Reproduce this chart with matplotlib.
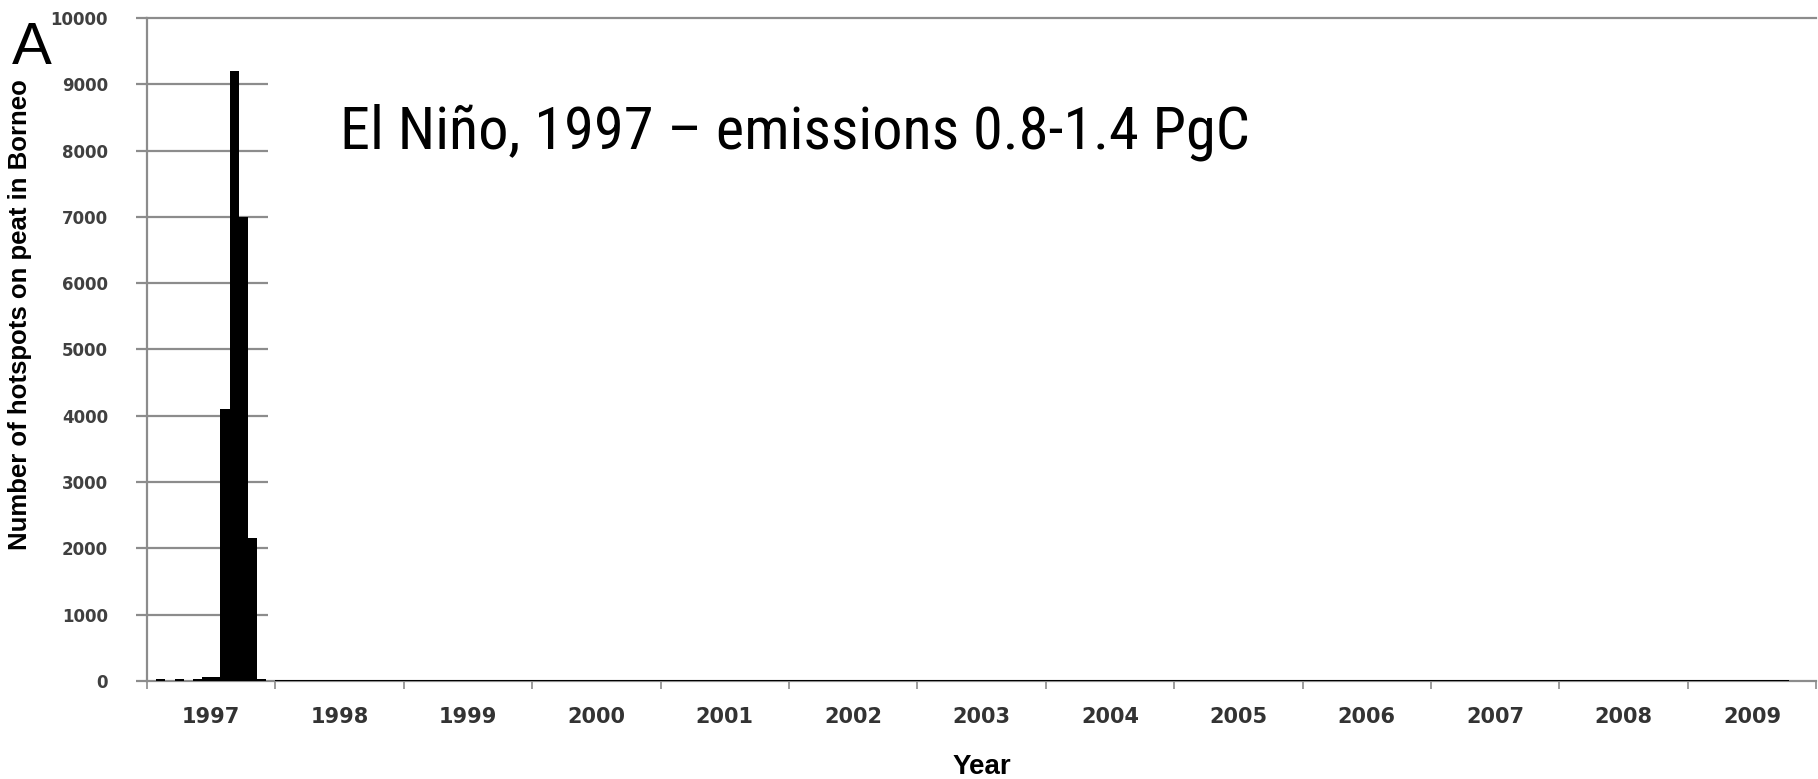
import numpy as np
from matplotlib import pyplot as plt

# Hotspot counts on peat in Borneo, 14 bins per year, 1997-2009
years = np.arange(1997, 2010)
bins_per_year = 14

counts_by_year = {
    1997: [0, 30, 0, 30, 0, 30, 60, 60, 4100, 9200, 7000, 2150, 30, 0],
    1998: [15, 15, 15, 15, 10, 20, 20, 15, 15, 20, 15, 15, 10, 10],
    1999: [10, 10, 10, 10, 15, 15, 15, 10, 10, 10, 15, 15, 15, 10],
    2000: [15, 15, 10, 20, 20, 15, 10, 10, 15, 15, 10, 10, 15, 15],
    2001: [10, 15, 15, 15, 10, 10, 15, 15, 15, 10, 10, 10, 15, 15],
    2002: [15, 15, 15, 10, 10, 10, 15, 15, 15, 15, 10, 10, 10, 10],
    2003: [10, 10, 15, 15, 15, 10, 10, 10, 15, 15, 15, 15, 10, 10],
    2004: [15, 15, 15, 10, 10, 15, 15, 15, 10, 10, 10, 15, 15, 10],
    2005: [10, 15, 15, 15, 15, 10, 10, 15, 15, 15, 10, 10, 10, 15],
    2006: [15, 10, 10, 10, 15, 15, 15, 15, 10, 10, 15, 15, 15, 10],
    2007: [10, 10, 15, 15, 15, 10, 10, 15, 15, 15, 15, 10, 10, 10],
    2008: [15, 15, 15, 10, 10, 10, 15, 15, 15, 10, 10, 15, 15, 15],
    2009: [10, 15, 15, 15, 15, 10, 10, 15, 15, 15, 10, 0, 0, 0],
}

yticks = np.arange(0, 10001, 1000)
title_text = 'El Niño, 1997 – emissions 0.8-1.4 PgC'
ylabel_text = 'Number of hotspots on peat in Borneo'
xlabel_text = 'Year'

grey = '#8c8c8c'

fig = plt.figure(figsize=(18.18, 7.79), dpi=100)
ax = fig.add_axes([0.0809, 0.1258, 0.9181, 0.8511])

# bars, one per bin
for yr in years:
    vals = np.array(counts_by_year[yr])
    x = yr + np.arange(bins_per_year) / bins_per_year
    ax.bar(x, vals, width=1 / bins_per_year, align='edge', color='black', linewidth=0, zorder=3)

ax.set_xlim(years[0], years[-1] + 1)
ax.set_ylim(0, 10000)

# short gridlines only across the first year
ax.hlines(yticks[1:-1], years[0], years[0] + 0.94, color=grey, linewidth=1.6, zorder=1)

for side in ['left', 'bottom', 'top']:
    ax.spines[side].set_color(grey)
    ax.spines[side].set_linewidth(1.6)
ax.spines['right'].set_visible(False)

ax.set_yticks(yticks)
ax.set_yticklabels([str(v) for v in yticks], fontsize=12, fontweight='bold', color='#404040')
ax.tick_params(axis='y', length=8, width=1.6, color=grey, pad=20)

ax.set_xticks(np.arange(years[0], years[-1] + 2))
ax.set_xticklabels([])
ax.set_xticks(years + 0.5, minor=True)
ax.set_xticklabels([str(y) for y in years], minor=True, fontsize=15, fontweight='bold', color='#333333')
ax.tick_params(axis='x', which='major', length=6, width=1.2, color=grey, direction='out')
ax.tick_params(axis='x', which='minor', length=0, pad=19)

ax.set_ylabel(ylabel_text, fontsize=18.5, fontweight='bold', family='Liberation Sans')
ax.yaxis.set_label_coords(-0.069, 0.552)
ax.set_xlabel(xlabel_text, fontsize=20, fontweight='bold', family='Liberation Sans', labelpad=19)

fig.text(0.0066, 0.918, 'A', fontsize=43, family='Liberation Sans')
fig.text(0.187, 0.81, title_text, fontsize=43.5, fontstretch='condensed',
         family=['Liberation Sans Narrow', 'Roboto Condensed', 'Noto Sans', 'Liberation Sans'])

fig.savefig('out.png', dpi=100)
